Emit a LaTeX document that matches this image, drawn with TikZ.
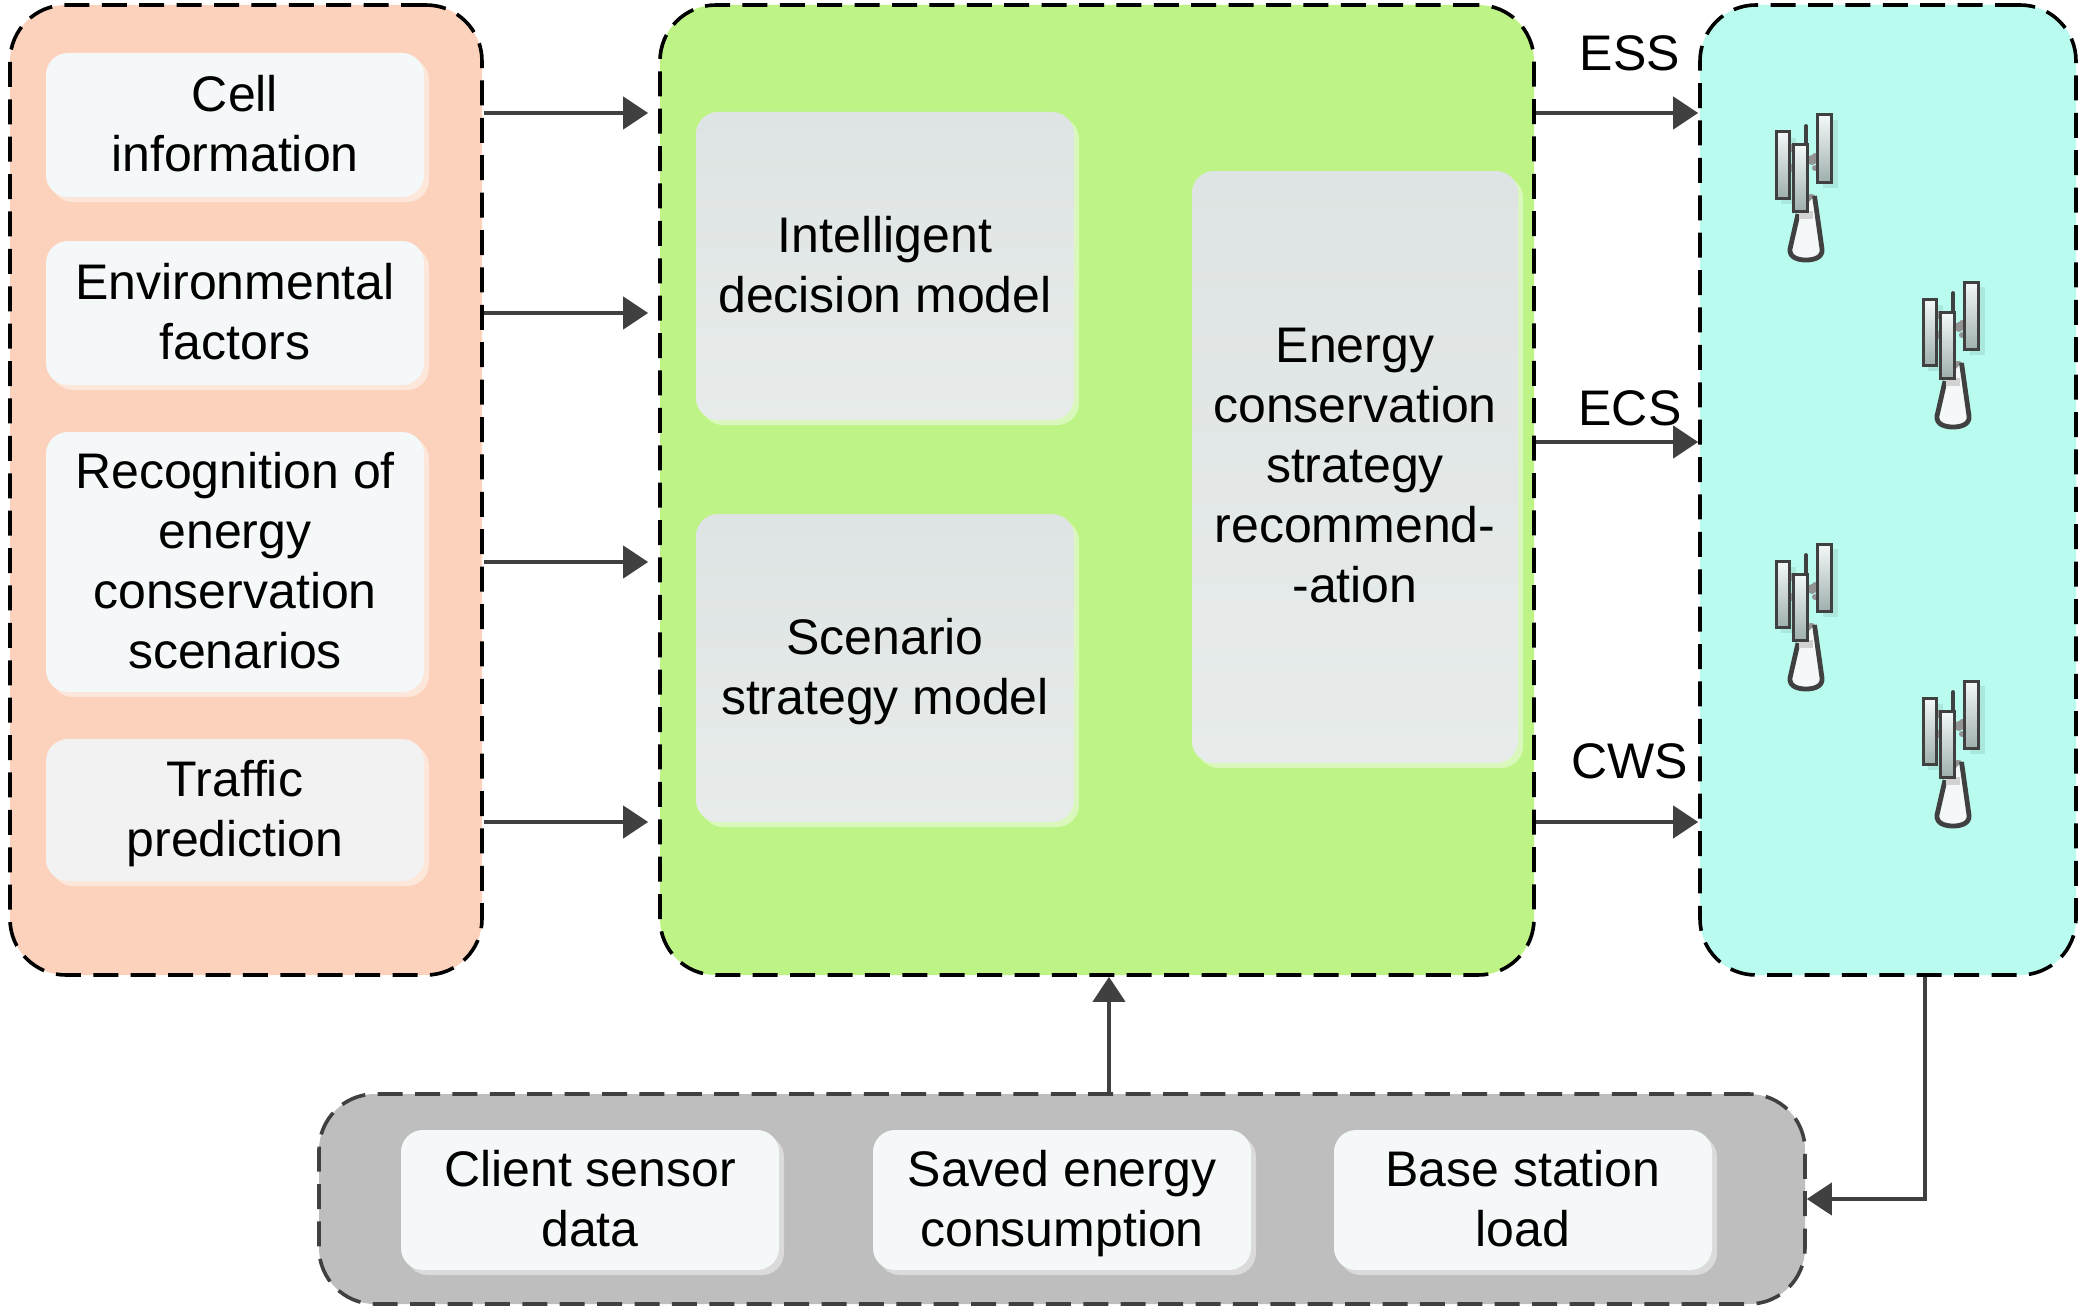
\documentclass[tikz,border=0pt]{standalone}
\usepackage{fontspec}
\setmainfont{Liberation Sans}
\usetikzlibrary{arrows.meta,shadows}
\definecolor{darkline}{HTML}{404040}
\definecolor{leftfill}{HTML}{FDD2BC}
\definecolor{midfill}{HTML}{BEF486}
\definecolor{rightfill}{HTML}{B9FBEF}
\definecolor{botfill}{HTML}{BEBEBE}
\definecolor{paper}{HTML}{F4F8F9}
\definecolor{greybox}{HTML}{F2F2F2}
\definecolor{modeltop}{HTML}{DEE4E3}
\definecolor{modelbot}{HTML}{E7ECEB}
\definecolor{barbot}{HTML}{9FB0AE}
\tikzset{
  bigpanel/.style={rounded corners=28pt,line width=1.8pt,draw=black,
    dash pattern=on 12.5pt off 6.2pt,inner sep=0pt},
  softshadow/.style={general shadow={fill=white,opacity=.45,shadow xshift=2.5pt,shadow yshift=-2.5pt}},
  infobox/.style={rounded corners=11pt,fill=paper,softshadow,align=center,inner sep=0pt,text depth=1.4pt,
    font=\fontsize{25}{30}\selectfont,text=black},
  modelnode/.style={infobox,fill=none,top color=modeltop,bottom color=modelbot},
  flabel/.style={font=\fontsize{25}{30}\selectfont,text=black,inner sep=0pt},
  flow/.style={-{Triangle[length=12.5pt,width=16pt]},line width=2pt,draw=darkline},
  panelbar/.style={draw=darkline,line width=1.5pt,top color=paper,bottom color=barbot},
  barshade/.style={fill=black,opacity=.08},
  tower/.pic={
    \fill[barshade] (-25,-122) rectangle (-10,-56);
    \fill[barshade] (17,-140) rectangle (32,-72);
    \fill[gray!85] (-15,-112) circle (4) (6,-100) circle (5) (9,-104) circle (3) (9,-92) circle (3) (-15,-92) circle (4) (5,-60) circle (6);
    \draw[darkline,line width=2.4pt,line join=round,fill=paper]
      (-8,-46) -- (-16,-11) .. controls (-17,-2) and (-7,0) .. (0,0)
      .. controls (7,0) and (17,-2) .. (16,-11) -- (8.5,-64);
    \fill[gray!35] (-7,-49) rectangle (7,-41);
    \draw[darkline,line width=1.9pt,line cap=round] (0,-134) -- (0,-112);
    \draw[panelbar] (-30,-128) rectangle (-17,-62);
    \draw[panelbar] (11,-145) rectangle (25,-78);
    \draw[panelbar] (-13,-115) rectangle (1,-49);
  }
}
\begin{document}
\begin{tikzpicture}[x=0.5pt,y=-0.5pt]
\useasboundingbox (0,0) rectangle (2083,1311);
% large panels
\node[bigpanel,fill=leftfill,minimum width=236pt,minimum height=485pt] (left) at (246,490) {};
\node[bigpanel,fill=midfill,minimum width=437pt,minimum height=485pt] (mid) at (1097,490) {};
\node[bigpanel,fill=rightfill,minimum width=188pt,minimum height=485pt] (right) at (1888,490) {};
\node[bigpanel,fill=botfill,draw=darkline,minimum width=743pt,minimum height=105pt] (bot) at (1062,1199) {};
% left boxes
\node[infobox,minimum width=189pt,minimum height=72pt] (cell) at (235,125) {Cell\\information};
\node[infobox,minimum width=189pt,minimum height=72pt] (env) at (235,313) {Environmental\\factors};
\node[infobox,minimum width=189pt,minimum height=130pt] (rec) at (235,562) {Recognition of\\energy\\conservation\\scenarios};
\node[infobox,fill=greybox,minimum width=189pt,minimum height=71pt] (traffic) at (235,810) {Traffic\\prediction};
% model boxes
\node[modelnode,minimum width=189pt,minimum height=154pt] (intel) at (885,266) {Intelligent\\decision model};
\node[modelnode,minimum width=189pt,minimum height=154pt] (scen) at (885,668) {Scenario\\strategy model};
\node[modelnode,minimum width=163pt,minimum height=296pt] (rec2) at (1355,467) {Energy\\conservation\\strategy\\recommend-\\-ation};
% bottom boxes
\node[infobox,minimum width=189pt,minimum height=70pt] (client) at (590,1200) {Client sensor\\data};
\node[infobox,minimum width=189pt,minimum height=70pt] (saved) at (1062,1200) {Saved energy\\consumption};
\node[infobox,minimum width=189pt,minimum height=70pt] (load) at (1523,1200) {Base station\\load};
% towers
\pic (t1) at (1806,260) {tower};
\pic (t2) at (1953,427) {tower};
\pic (t3) at (1806,689) {tower};
\pic (t4) at (1953,826) {tower};
% flow rows
\coordinate (r1) at (0,113);
\coordinate (r2) at (0,313);
\coordinate (r3) at (0,562);
\coordinate (r4) at (0,822);
\coordinate (r5) at (0,442);
\coordinate (upx) at (1109,0);
\coordinate (downx) at (1925,0);
\draw[flow,shorten >=5pt] (left.east |- r1) -- (mid.west |- r1);
\draw[flow,shorten >=5pt] (left.east |- r2) -- (mid.west |- r2);
\draw[flow,shorten >=5pt] (left.east |- r3) -- (mid.west |- r3);
\draw[flow,shorten >=5pt] (left.east |- r4) -- (mid.west |- r4);
\draw[flow] (mid.east |- r1) -- (right.west |- r1);
\draw[flow] (mid.east |- r5) -- (right.west |- r5);
\draw[flow] (mid.east |- r4) -- (right.west |- r4);
\draw[flow] (bot.north -| upx) -- (mid.south -| upx);
\draw[flow] (right.south -| downx) -- (downx |- bot.east) -- (bot.east);
% labels
\node[flabel] (ess) at (1630,53) {ESS};
\node[flabel] (ecs) at (1630,408) {ECS};
\node[flabel] (cws) at (1630,761) {CWS};
\end{tikzpicture}
\end{document}
